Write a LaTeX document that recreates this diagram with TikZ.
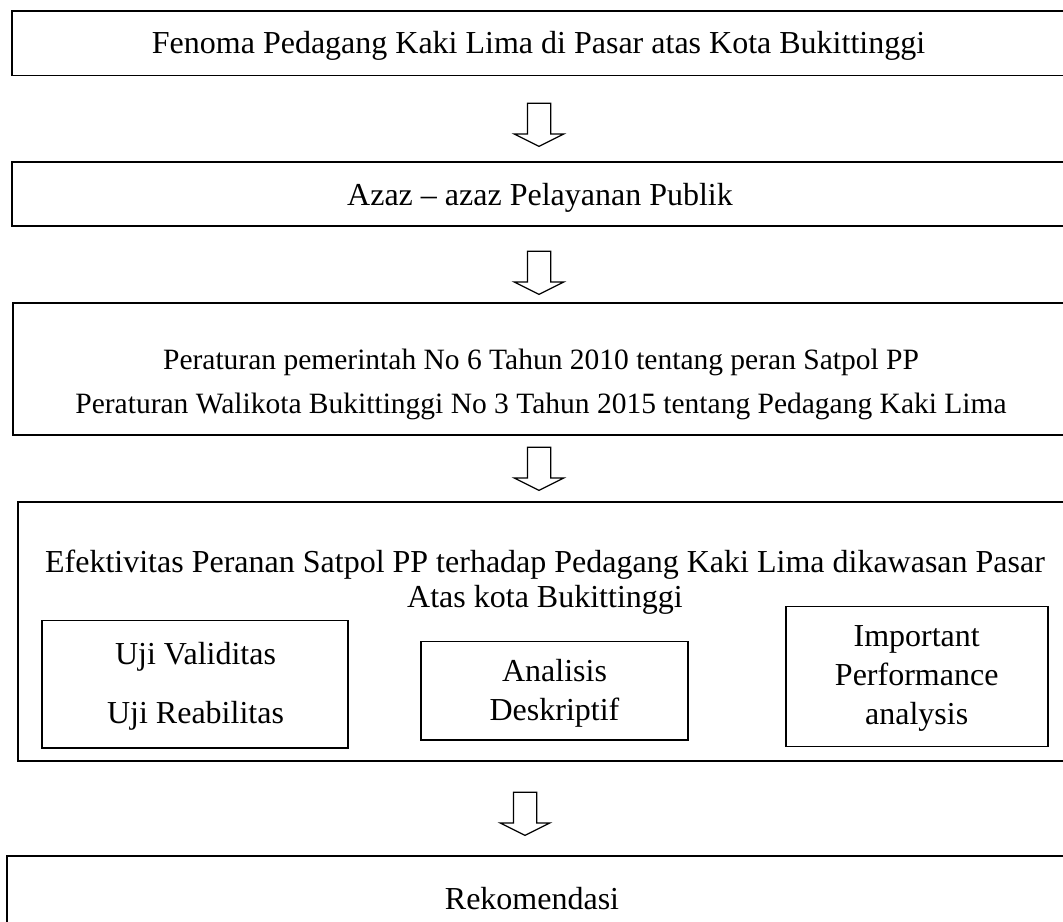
\documentclass[tikz,border=0pt]{standalone}
\usepackage{fontspec}
\setmainfont{Liberation Serif}
\usetikzlibrary{shapes.arrows,fit}

\begin{document}
\begin{tikzpicture}[x=0.4pt,y=-0.4pt,
  box/.style={draw,line width=0.6pt,inner sep=0pt},
  subbox/.style={draw,line width=0.55pt,inner sep=0pt},
  txt/.style={inner sep=0pt,align=center,font=\fontsize{12.8}{15.6}\selectfont},
  smalltxt/.style={inner sep=0pt,align=center,font=\fontsize{11.8}{14}\selectfont},
  downarrow/.style={draw,line width=0.5pt,single arrow,shape border rotate=270,
    inner sep=4.4pt,minimum height=17.2pt,single arrow head extend=5.2pt,
    single arrow tip angle=127,anchor=tail}]
\useasboundingbox (0,0) rectangle (1063,921);
% main boxes
\node[box,fit={(12,11) (1085,75.5)}] (fenoma) {};
\node[box,fit={(12,162) (1085,226)}] (azaz) {};
\node[box,fit={(13,303) (1085,435)}] (peraturan) {};
\node[box,fit={(18,502) (1085,761)}] (efektivitas) {};
\node[box,fit={(7,856) (1085,940)}] (rekomendasi) {};
% boxes inside efektivitas
\node[subbox,fit={(42,620.5) (348,748)}] (uji) {};
\node[subbox,fit={(421,641.7) (688,740)}] (analisis) {};
\node[subbox,fit={(786,606.7) (1048,746.7)}] (ipa) {};
% texts
\node[txt] (fenomatext) at (538.5,46) {Fenoma Pedagang Kaki Lima di Pasar atas Kota Bukittinggi};
\node[txt] (azaztext) at (540,198) {Azaz -- azaz Pelayanan Publik};
\node[smalltxt] (pp) at (541,362) {Peraturan pemerintah No 6 Tahun 2010 tentang peran Satpol PP};
\node[smalltxt] (perwako) at (541,406) {Peraturan Walikota Bukittinggi No 3 Tahun 2015 tentang Pedagang Kaki Lima};
\node[txt,font=\fontsize{12.8}{14}\selectfont] (efektext) at (545,582.5) {Efektivitas Peranan Satpol PP terhadap Pedagang Kaki Lima dikawasan Pasar\\Atas kota Bukittinggi};
\node[txt] (validitas) at (195.5,657) {Uji Validitas};
\node[txt] (reabilitas) at (195.5,716) {Uji Reabilitas};
\node[txt] (analisistext) at (554.5,693.5) {Analisis\\Deskriptif};
\node[txt] (ipatext) at (916.7,678) {Important\\Performance\\analysis};
\node[txt] (rekotext) at (532,899) {Rekomendasi};
% block arrows
\node[downarrow] (arrowa) at (539,102.7) {};
\node[downarrow] (arrowb) at (539,250.7) {};
\node[downarrow] (arrowc) at (539,446.7) {};
\node[downarrow] (arrowd) at (525,791.7) {};
\end{tikzpicture}
\end{document}
